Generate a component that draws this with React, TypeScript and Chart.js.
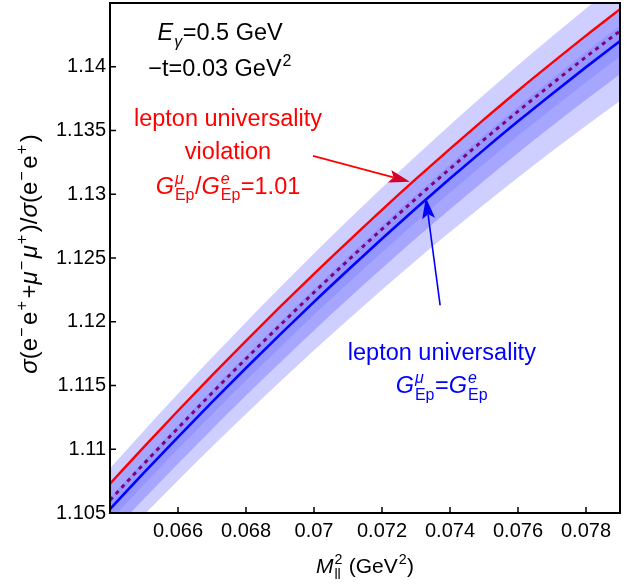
import React, { useEffect, useRef } from 'react';
import { Chart, registerables } from 'chart.js';

Chart.register(...registerables);

// ---- data ----
const xValues = [0.064, 0.065, 0.066, 0.067, 0.068, 0.069, 0.07, 0.071, 0.072, 0.073, 0.074, 0.075, 0.076, 0.077, 0.078, 0.079];
const universalityValues = [1.1053, 1.10816, 1.11095, 1.11369, 1.11637, 1.11899, 1.12156, 1.12406, 1.12651, 1.1289, 1.13123, 1.1335, 1.13572, 1.13787, 1.13997, 1.14201];
const violationValues = [1.1073, 1.11019, 1.11302, 1.11579, 1.1185, 1.12116, 1.12376, 1.12629, 1.12878, 1.1312, 1.13356, 1.13587, 1.13812, 1.1403, 1.14244, 1.14451];
const dottedValues = [1.106, 1.10887, 1.11166, 1.11441, 1.1171, 1.11972, 1.1223, 1.12481, 1.12726, 1.12966, 1.132, 1.13428, 1.1365, 1.13866, 1.14077, 1.14281];
const outerBandHalfWidth = [0.0032, 0.0033, 0.0034, 0.0035, 0.0036, 0.0037, 0.0038, 0.0039, 0.004, 0.0041, 0.0042, 0.0043, 0.0044, 0.0045, 0.0046, 0.0047];
const middleBandHalfWidth = [0.002, 0.00204, 0.00208, 0.00212, 0.00216, 0.0022, 0.00224, 0.00228, 0.00232, 0.00236, 0.0024, 0.00244, 0.00248, 0.00252, 0.00256, 0.0026];
const innerBandHalfWidth = [0.0009, 0.00092, 0.00094, 0.00096, 0.00098, 0.001, 0.00102, 0.00104, 0.00106, 0.00108, 0.0011, 0.00112, 0.00114, 0.00116, 0.00118, 0.0012];
const xTickValues = [0.066, 0.068, 0.07, 0.072, 0.074, 0.076, 0.078];
const yTickValues = [1.105, 1.11, 1.115, 1.12, 1.125, 1.13, 1.135, 1.14];

const FAMILY = "'Liberation Sans', Arial, Helvetica, sans-serif";

type Seg = { t: string; it?: boolean; sup?: string; sub?: string; supIt?: boolean; subIt?: boolean };

function richWidth(ctx: CanvasRenderingContext2D, segs: Seg[], size: number, gap: number) {
  const ss = size * 0.68;
  let w = 0;
  for (const s of segs) {
    ctx.font = `${s.it ? 'italic ' : ''}${size}px ${FAMILY}`;
    w += ctx.measureText(s.t).width;
    let sw = 0;
    if (s.sup) { ctx.font = `${s.supIt ? 'italic ' : ''}${ss}px ${FAMILY}`; sw = Math.max(sw, ctx.measureText(s.sup).width); }
    if (s.sub) { ctx.font = `${s.subIt ? 'italic ' : ''}${ss}px ${FAMILY}`; sw = Math.max(sw, ctx.measureText(s.sub).width); }
    if (sw > 0) w += sw + gap;
  }
  return w;
}

function drawRich(ctx: CanvasRenderingContext2D, segs: Seg[], x: number, y: number, size: number, color: string, gap = 1.5) {
  const ss = size * 0.68;
  const w = richWidth(ctx, segs, size, gap);
  let cx = x - w / 2;
  ctx.save();
  ctx.fillStyle = color;
  ctx.textBaseline = 'alphabetic';
  ctx.textAlign = 'left';
  for (const s of segs) {
    ctx.font = `${s.it ? 'italic ' : ''}${size}px ${FAMILY}`;
    ctx.fillText(s.t, cx, y);
    cx += ctx.measureText(s.t).width;
    let sw = 0;
    if (s.sup) {
      ctx.font = `${s.supIt ? 'italic ' : ''}${ss}px ${FAMILY}`;
      ctx.fillText(s.sup, cx + 1, y - size * 0.42);
      sw = Math.max(sw, ctx.measureText(s.sup).width);
    }
    if (s.sub) {
      ctx.font = `${s.subIt ? 'italic ' : ''}${ss}px ${FAMILY}`;
      ctx.fillText(s.sub, cx + 1, y + size * 0.28);
      sw = Math.max(sw, ctx.measureText(s.sub).width);
    }
    if (sw > 0) cx += sw + gap;
  }
  ctx.restore();
}

function drawArrow(ctx: CanvasRenderingContext2D, x0: number, y0: number, x1: number, y1: number, lineColor: string, headColor: string) {
  const ang = Math.atan2(y1 - y0, x1 - x0);
  const L = 21, H = 6.5;
  const bx = x1 - L * Math.cos(ang), by = y1 - L * Math.sin(ang);
  ctx.save();
  ctx.strokeStyle = lineColor;
  ctx.lineWidth = 1.6;
  ctx.beginPath();
  ctx.moveTo(x0, y0);
  ctx.lineTo(bx + 4 * Math.cos(ang), by + 4 * Math.sin(ang));
  ctx.stroke();
  ctx.fillStyle = headColor;
  const nx = -Math.sin(ang), ny = Math.cos(ang);
  const nbx = x1 - (L * 0.8) * Math.cos(ang), nby = y1 - (L * 0.8) * Math.sin(ang);
  ctx.beginPath();
  ctx.moveTo(x1, y1);
  ctx.lineTo(bx + H * nx, by + H * ny);
  ctx.lineTo(nbx, nby);
  ctx.lineTo(bx - H * nx, by - H * ny);
  ctx.closePath();
  ctx.fill();
  ctx.restore();
}

const decorPlugin = {
  id: 'decor',
  afterDraw(chart: any) {
    const ctx: CanvasRenderingContext2D = chart.ctx;
    const xs = chart.scales.x;
    const ys = chart.scales.y;
    const a = chart.chartArea;
    const X = (v: number) => xs.getPixelForValue(v);
    const Y = (v: number) => ys.getPixelForValue(v);
    ctx.save();
    ctx.strokeStyle = '#000';
    ctx.lineWidth = 2;
    ctx.strokeRect(a.left, a.top, a.right - a.left, a.bottom - a.top);
    ctx.lineWidth = 1.5;
    ctx.beginPath();
    for (const v of xTickValues) { const px = X(v); ctx.moveTo(px, a.bottom); ctx.lineTo(px, a.bottom - 6); }
    for (const v of yTickValues) { const py = Y(v); ctx.moveTo(a.left, py); ctx.lineTo(a.left + 6, py); }
    ctx.stroke();
    ctx.restore();

    const AS = 23.5;
    drawRich(ctx, [{ t: 'E', it: true, sub: 'γ', subIt: true }, { t: '=0.5 GeV' }], X(0.06724), Y(1.14209), AS, '#000');
    drawRich(ctx, [{ t: '−t=0.03 GeV', sup: '2' }], X(0.06724), Y(1.13927), AS, '#000');
    drawRich(ctx, [{ t: 'lepton universality' }], X(0.06747), Y(1.13536), AS, 'rgb(255,0,0)');
    drawRich(ctx, [{ t: 'violation' }], X(0.06747), Y(1.13278), AS, 'rgb(255,0,0)');
    drawRich(ctx, [
      { t: 'G', it: true, sup: 'μ', supIt: true, sub: 'Ep' },
      { t: '/' },
      { t: 'G', it: true, sup: 'e', supIt: true, sub: 'Ep' },
      { t: '=1.01' },
    ], X(0.06747), Y(1.13004), AS, 'rgb(255,0,0)');
    drawRich(ctx, [{ t: 'lepton universality' }], X(0.07376), Y(1.11697), AS, 'rgb(0,0,255)');
    drawRich(ctx, [
      { t: 'G', it: true, sup: 'μ', supIt: true, sub: 'Ep' },
      { t: '=' },
      { t: 'G', it: true, sup: 'e', supIt: true, sub: 'Ep' },
    ], X(0.07376), Y(1.11439), AS, 'rgb(0,0,255)');

    drawArrow(ctx, X(0.06997), Y(1.13301), X(0.07282), Y(1.13098), 'rgb(255,0,0)', 'rgb(215,0,40)');
    drawArrow(ctx, X(0.07371), Y(1.12128), X(0.07329), Y(1.12973), 'rgb(0,0,255)', 'rgb(0,0,255)');

    drawRich(ctx, [
      { t: 'M', it: true, sup: '2', sub: 'll' },
      { t: ' (GeV', sup: '2' },
      { t: ')' },
    ], (a.left + a.right) / 2, 573, 21, '#000');

    ctx.save();
    ctx.translate(37, (a.top + a.bottom) / 2 - 4);
    ctx.rotate(-Math.PI / 2);
    drawRich(ctx, [
      { t: 'σ', it: true },
      { t: '(e', sup: '−' },
      { t: 'e', sup: '+' },
      { t: '+' },
      { t: 'μ', it: true, sup: '−' },
      { t: 'μ', it: true, sup: '+' },
      { t: ')/' },
      { t: 'σ', it: true },
      { t: '(e', sup: '−' },
      { t: 'e', sup: '+' },
      { t: ')' },
    ], 0, 0, 24, '#000', 3.5);
    ctx.restore();
  },
};

export default function App() {
  const ref = useRef<HTMLCanvasElement | null>(null);
  useEffect(() => {
    if (!ref.current) return;
    const pts = (arr: number[]) => xValues.map((x, i) => ({ x, y: arr[i] }));
    const band = (hw: number[], sign: number) => xValues.map((x, i) => ({ x, y: universalityValues[i] + sign * hw[i] }));
    const lineBase = { pointRadius: 0, tension: 0.4, cubicInterpolationMode: 'monotone' as const, fill: false };
    const bandBase = { pointRadius: 0, borderWidth: 0, tension: 0.4, cubicInterpolationMode: 'monotone' as const };
    const chart = new Chart(ref.current, {
      type: 'line',
      data: {
        datasets: [
          { ...lineBase, data: pts(violationValues), borderColor: 'rgb(255,0,0)', borderWidth: 2.4 },
          { ...lineBase, data: pts(dottedValues), borderColor: 'rgb(128,0,120)', borderWidth: 3, borderDash: [4, 4.5] },
          { ...lineBase, data: pts(universalityValues), borderColor: 'rgb(0,0,255)', borderWidth: 2.6 },
          { ...bandBase, data: band(innerBandHalfWidth, 1), fill: '+1', backgroundColor: 'rgb(150,150,255)' },
          { ...bandBase, data: band(innerBandHalfWidth, -1), fill: false },
          { ...bandBase, data: band(middleBandHalfWidth, 1), fill: '+1', backgroundColor: 'rgb(166,166,255)' },
          { ...bandBase, data: band(middleBandHalfWidth, -1), fill: false },
          { ...bandBase, data: band(outerBandHalfWidth, 1), fill: '+1', backgroundColor: 'rgb(206,206,255)' },
          { ...bandBase, data: band(outerBandHalfWidth, -1), fill: false },
        ] as any,
      },
      options: {
        animation: false,
        responsive: false,
        devicePixelRatio: 1,
        layout: { padding: { left: 0, right: 23, top: 3, bottom: 0 } },
        plugins: { legend: { display: false }, tooltip: { enabled: false } },
        scales: {
          x: {
            type: 'linear',
            min: 0.064,
            max: 0.079,
            afterBuildTicks: (s: any) => { s.ticks = xTickValues.map((v) => ({ value: v })); },
            afterFit: (s: any) => { s.height = 72; s.paddingLeft = 0; s.paddingRight = 0; },
            grid: { display: false, drawTicks: false },
            border: { display: false },
            ticks: {
              autoSkip: false,
              maxRotation: 0,
              padding: 6,
              color: '#000',
              font: { family: FAMILY, size: 20 },
              callback: (v: any) => String(+Number(v).toFixed(4)),
            },
          },
          y: {
            type: 'linear',
            min: 1.105,
            max: 1.145,
            afterBuildTicks: (s: any) => { s.ticks = yTickValues.map((v) => ({ value: v })); },
            afterFit: (s: any) => { s.width = 110; s.paddingTop = 0; s.paddingBottom = 0; },
            grid: { display: false, drawTicks: false },
            border: { display: false },
            ticks: {
              autoSkip: false,
              padding: 4,
              color: '#000',
              font: { family: FAMILY, size: 20 },
              callback: (v: any) => String(+Number(v).toFixed(4)),
            },
          },
        },
      } as any,
      plugins: [decorPlugin],
    });
    return () => chart.destroy();
  }, []);
  return (
    <div style={{ position: 'absolute', left: 0, top: 0, width: 643, height: 585, background: '#fff' }}>
      <canvas ref={ref} width={643} height={585} style={{ display: 'block' }} />
    </div>
  );
}
